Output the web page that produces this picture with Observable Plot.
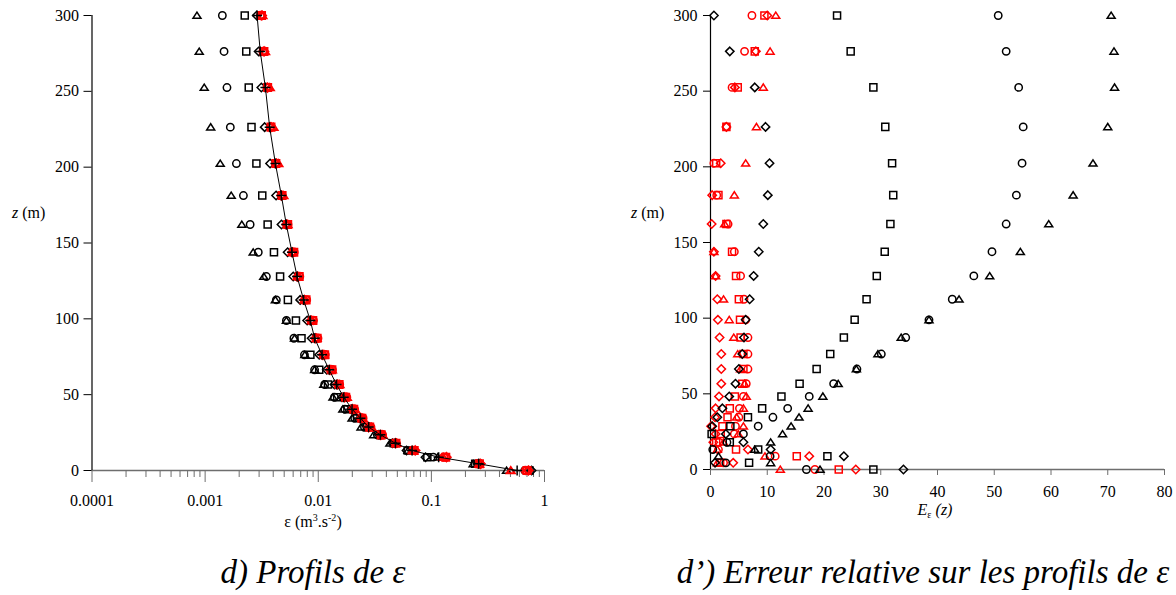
<!DOCTYPE html>
<html><head><meta charset="utf-8">
<script src="https://cdn.jsdelivr.net/npm/d3@7"></script>
<script src="https://cdn.jsdelivr.net/npm/@observablehq/plot@0.6"></script>
<style>
html,body{margin:0;padding:0;background:#fff;}
#wrap{position:relative;width:1176px;height:595px;overflow:hidden;font-family:'Liberation Serif','DejaVu Serif','Times New Roman',Times,serif;color:#000;}
#left,#right{position:absolute;top:0;}
#left{left:0;} #right{left:588px;}
.lbl{position:absolute;font-size:16px;white-space:nowrap;line-height:16px;}
.ctr{transform:translateX(-50%);}
.cap{position:absolute;font-size:33px;font-style:italic;white-space:nowrap;line-height:33px;transform:translateX(-50%);}
sup{font-size:10px;vertical-align:6px;line-height:0;}
sub{font-size:10px;vertical-align:-3px;line-height:0;}
svg text{font-family:'Liberation Serif','DejaVu Serif','Times New Roman',Times,serif;}
</style></head><body>
<div id="wrap">
  <div id="left"></div>
  <div id="right"></div>
  <div class="lbl" style="left:12px;top:205px"><i>z</i> (m)</div>
  <div class="lbl" style="left:631px;top:205px"><i>z</i> (m)</div>
  <div class="lbl ctr" style="left:313px;top:514px">ε (m<sup>3</sup>.s<sup>-2</sup>)</div>
  <div class="lbl ctr" style="left:935px;top:502px"><i>E</i><sub>ε</sub> <i>(z)</i></div>
  <div class="cap" style="left:313px;top:556px">d) Profils de ε</div>
  <div class="cap" style="left:923px;top:556px">d’) Erreur relative sur les profils de ε</div>
</div>
<script>
// heights (m), bottom to top
const zLevels = [0, 4.4, 8.8, 13.2, 18, 23.5, 28.6, 34.5, 40.4, 48.3, 56.7, 66.4, 76.3, 87.2, 98.9, 112.5, 127.9, 143.9, 162.2, 181.3, 202.4, 226.4, 252.5, 276.3, 300];

// left panel: epsilon profiles (m3.s-2)
const epsRef = [0.573, 0.262, 0.116, 0.0675, 0.0481, 0.0354, 0.0279, 0.0236, 0.0199, 0.0168, 0.0145, 0.0125, 0.0108, 0.00929, 0.00851, 0.00743, 0.0065, 0.00586, 0.00522, 0.00472, 0.00418, 0.00372, 0.00341, 0.00307, 0.00288];
const epsBlackCircle = [0.670, 0.255, 0.104, 0.0672, 0.0467, 0.0333, 0.0256, 0.0210, 0.0172, 0.0139, 0.0114, 0.00928, 0.00755, 0.00609, 0.00523, 0.00426, 0.00348, 0.00295, 0.00250, 0.00218, 0.00189, 0.00167, 0.00156, 0.00147, 0.00142];
const epsBlackTriangle = [0.462, 0.234, 0.114, 0.0622, 0.0430, 0.0309, 0.0239, 0.0199, 0.0165, 0.0135, 0.0112, 0.00929, 0.00761, 0.00617, 0.00523, 0.00418, 0.00330, 0.00266, 0.00211, 0.00170, 0.00136, 0.00112, 0.000982, 0.000887, 0.000847];
const epsBlackSquare = [0.737, 0.244, 0.0921, 0.0618, 0.0465, 0.0353, 0.0269, 0.0220, 0.0181, 0.0147, 0.0122, 0.0102, 0.00852, 0.00711, 0.00635, 0.00539, 0.00460, 0.00406, 0.00357, 0.00320, 0.00284, 0.00257, 0.00243, 0.00231, 0.00224];
const epsBlackDiamond = [0.768, 0.260, 0.0887, 0.0603, 0.0453, 0.0344, 0.0278, 0.0233, 0.0195, 0.0162, 0.0139, 0.0119, 0.0102, 0.00874, 0.00798, 0.00692, 0.00601, 0.00536, 0.00473, 0.00424, 0.00375, 0.00336, 0.00314, 0.00297, 0.00286];
const epsRedCircle = [0.678, 0.268, 0.129, 0.0684, 0.0488, 0.0369, 0.0291, 0.0248, 0.0209, 0.0178, 0.0154, 0.0133, 0.0115, 0.00990, 0.00904, 0.00787, 0.00684, 0.00611, 0.00538, 0.00477, 0.00421, 0.00382, 0.00354, 0.00325, 0.00309];
const epsRedSquare = [0.702, 0.266, 0.134, 0.0705, 0.0486, 0.0360, 0.0285, 0.0243, 0.0206, 0.0175, 0.0153, 0.0132, 0.0114, 0.00978, 0.00895, 0.00780, 0.00679, 0.00608, 0.00537, 0.00479, 0.00422, 0.00382, 0.00357, 0.00331, 0.00315];
const epsRedDiamond = [0.720, 0.272, 0.136, 0.0720, 0.0483, 0.0357, 0.0279, 0.0238, 0.0201, 0.0171, 0.0148, 0.0127, 0.0110, 0.00944, 0.00862, 0.00752, 0.00656, 0.00590, 0.00523, 0.00473, 0.00426, 0.00382, 0.00356, 0.00332, 0.00317];
const epsRedTriangle = [0.503, 0.265, 0.127, 0.0683, 0.0492, 0.0371, 0.0295, 0.0247, 0.0211, 0.0179, 0.0154, 0.0132, 0.0113, 0.00967, 0.00879, 0.00760, 0.00656, 0.00590, 0.00535, 0.00492, 0.00444, 0.00402, 0.00373, 0.00339, 0.00321];

// right panel: relative error E(z) (%)
const errBlackCircle = [16.9, 2.7, 10.5, 0.4, 2.9, 5.8, 8.4, 11.0, 13.6, 17.4, 21.7, 25.8, 30.1, 34.4, 38.5, 42.6, 46.4, 49.6, 52.1, 53.9, 54.9, 55.1, 54.3, 52.1, 50.7];
const errBlackTriangle = [19.3, 10.6, 1.4, 7.8, 10.6, 12.7, 14.2, 15.6, 17.2, 19.8, 22.5, 25.7, 29.5, 33.6, 38.5, 43.8, 49.2, 54.6, 59.6, 63.9, 67.4, 70.0, 71.2, 71.1, 70.6];
const errBlackSquare = [28.7, 6.8, 20.6, 8.4, 3.4, 0.2, 3.5, 6.6, 9.1, 12.5, 15.7, 18.7, 21.1, 23.5, 25.4, 27.5, 29.3, 30.7, 31.7, 32.2, 32.0, 30.8, 28.7, 24.7, 22.3];
const errBlackDiamond = [34.0, 0.8, 23.5, 10.6, 5.8, 2.7, 0.3, 1.2, 2.1, 3.3, 4.4, 5.0, 5.6, 5.9, 6.2, 6.9, 7.6, 8.5, 9.3, 10.1, 10.4, 9.7, 7.8, 3.4, 0.6];
const errRedCircle = [18.4, 2.3, 11.4, 1.4, 1.5, 4.2, 4.4, 5.0, 5.1, 5.8, 6.3, 6.6, 6.6, 6.6, 6.2, 5.9, 5.3, 4.2, 3.1, 1.1, 0.6, 2.8, 3.8, 6.0, 7.3];
const errRedSquare = [22.6, 1.7, 15.2, 4.5, 1.0, 1.8, 2.1, 3.0, 3.4, 4.3, 5.6, 5.8, 5.8, 5.3, 5.2, 5.0, 4.5, 3.8, 2.8, 1.4, 1.0, 2.8, 4.8, 7.8, 9.5];
const errRedDiamond = [25.6, 4.0, 17.4, 6.6, 0.5, 0.9, 0.1, 0.8, 0.9, 1.5, 1.9, 1.9, 1.9, 1.6, 1.3, 1.2, 0.9, 0.6, 0.2, 0.3, 1.8, 2.8, 4.3, 8.0, 10.0];
const errRedTriangle = [12.3, 1.2, 9.6, 1.2, 2.3, 4.9, 5.8, 4.6, 5.8, 6.3, 6.0, 5.3, 4.8, 4.1, 3.3, 2.3, 0.9, 0.6, 2.5, 4.2, 6.2, 8.1, 9.3, 10.5, 11.5];

// ticks
const yTicks = [0, 50, 100, 150, 200, 250, 300];
const xTicksLeft = [0.0001, 0.001, 0.01, 0.1, 1];
const xTickLabelsLeft = ["0.0001", "0.001", "0.01", "0.1", "1"];
const xTicksRight = [0, 10, 20, 30, 40, 50, 60, 70, 80];
const minorTicksLeft = [0.0001, 0.001, 0.01, 0.1].flatMap(d => [2,3,4,5,6,7,8,9].map(k => k * d));

// marker symbols (stroked outlines)
const rad = size => Math.sqrt(size / Math.PI);
const symSquare = {draw(c, s){ const h = rad(s) * 0.88; c.moveTo(-h,-h); c.lineTo(h,-h); c.lineTo(h,h); c.lineTo(-h,h); c.closePath(); }};
const symTriangle = {draw(c, s){ const r = rad(s); c.moveTo(0,-0.85*r); c.lineTo(r,0.7*r); c.lineTo(-r,0.7*r); c.closePath(); }};
const symDiamond = {draw(c, s){ const r = rad(s) * 1.05; c.moveTo(0,-r); c.lineTo(r,0); c.lineTo(0,r); c.lineTo(-r,0); c.closePath(); }};
const symCircle = {draw(c, s){ const r = rad(s) * 0.92; c.moveTo(r,0); c.arc(0,0,r,0,2*Math.PI); }};
const symPlus = {draw(c, s){ const r = rad(s) * 1.25; c.moveTo(-r,0); c.lineTo(r,0); c.moveTo(0,-r); c.lineTo(0,r); }};

const rows = arr => zLevels.map((z, i) => ({z, v: arr[i]}));
const dots = (arr, sym, color, sw = 1.5) => Plot.dot(rows(arr), {x: "v", y: "z", symbol: sym, r: 4, stroke: color, fill: "none", strokeWidth: sw});

const RED = "#ff0000", BLK = "#000000", AXG = "#6e6e6e";
const FONT = "'Liberation Serif','DejaVu Serif','Times New Roman',Times,serif";
const baseStyle = {fontFamily: FONT, fontSize: "16px", background: "transparent", color: "black", overflow: "visible"};

const leftPlot = Plot.plot({
  width: 588, height: 520,
  marginLeft: 91.5, marginRight: 44, marginTop: 15, marginBottom: 50,
  style: baseStyle,
  x: {type: "log", domain: [0.0001, 1]},
  y: {domain: [0, 300]},
  marks: [
    Plot.ruleY([0], {stroke: AXG, strokeWidth: 1.4}),
    Plot.axisX({ticks: minorTicksLeft, tickSize: 7, tickFormat: () => "", stroke: AXG, label: null}),
    Plot.axisX({ticks: xTicksLeft, tickSize: 12, tickPadding: 12, tickFormat: d => xTickLabelsLeft[xTicksLeft.indexOf(d)], stroke: AXG, label: null}),
    Plot.axisY({ticks: yTicks, tickSize: 8, tickPadding: 5, label: null}),
    Plot.ruleX([0.0001], {stroke: BLK, strokeWidth: 1.2}),
    dots(epsBlackTriangle, symTriangle, BLK),
    dots(epsBlackCircle, symCircle, BLK),
    dots(epsBlackSquare, symSquare, BLK),
    dots(epsBlackDiamond, symDiamond, BLK),
    dots(epsRedCircle, symCircle, RED, 2),
    dots(epsRedSquare, symSquare, RED, 2),
    dots(epsRedDiamond, symDiamond, RED, 2),
    dots(epsRedTriangle, symTriangle, RED, 2),
    Plot.line(rows(epsRef), {x: "v", y: "z", stroke: BLK, strokeWidth: 1}),
    Plot.dot(rows(epsRef), {x: "v", y: "z", symbol: symPlus, r: 4, stroke: BLK, strokeWidth: 1.5})
  ]
});
document.getElementById("left").appendChild(leftPlot);

const rightPlot = Plot.plot({
  width: 588, height: 520,
  marginLeft: 122, marginRight: 12, marginTop: 15, marginBottom: 51,
  style: baseStyle,
  x: {domain: [0, 80]},
  y: {domain: [0, 300]},
  marks: [
    Plot.ruleY([0], {stroke: AXG, strokeWidth: 1.4}),
    Plot.axisX({ticks: xTicksRight, tickSize: 6, tickPadding: 10, stroke: AXG, label: null}),
    Plot.axisY({ticks: yTicks, tickSize: 7, tickPadding: 6, label: null}),
    Plot.ruleX([0], {stroke: BLK, strokeWidth: 1.2}),
    dots(errRedCircle, symCircle, RED),
    dots(errRedSquare, symSquare, RED),
    dots(errRedDiamond, symDiamond, RED),
    dots(errRedTriangle, symTriangle, RED),
    dots(errBlackCircle, symCircle, BLK),
    dots(errBlackSquare, symSquare, BLK),
    dots(errBlackDiamond, symDiamond, BLK),
    dots(errBlackTriangle, symTriangle, BLK)
  ]
});
document.getElementById("right").appendChild(rightPlot);
</script>
</body></html>
